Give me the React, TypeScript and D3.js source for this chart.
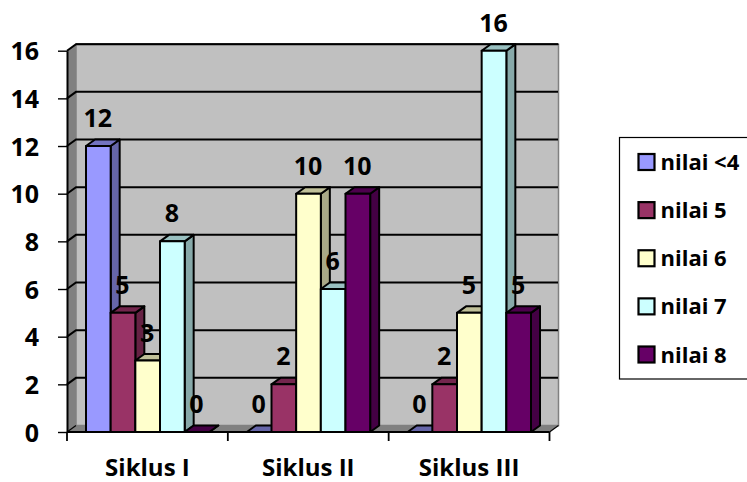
import React, { useEffect, useRef } from 'react';
import * as d3 from 'd3';

const categories = ['Siklus I', 'Siklus II', 'Siklus III'];
const seriesNames = ['nilai <4', 'nilai 5', 'nilai 6', 'nilai 7', 'nilai 8'];
const seriesColors = ['#9999ff', '#993366', '#ffffcc', '#ccffff', '#660066'];
const nilaiLt4 = [12, 0, 0];
const nilai5 = [5, 2, 2];
const nilai6 = [3, 10, 5];
const nilai7 = [8, 6, 16];
const nilai8 = [0, 10, 5];
const yTicks = [0, 2, 4, 6, 8, 10, 12, 14, 16];

const allSeries = [nilaiLt4, nilai5, nilai6, nilai7, nilai8];
const font = '"Open Sans", sans-serif';

const App: React.FC = () => {
  const ref = useRef<SVGSVGElement>(null);

  useEffect(() => {
    if (!ref.current) return;
    const svg = d3.select(ref.current);
    svg.selectAll('*').remove();

    const left = 67;
    const right = 549.5;
    const bottom = 432;
    const top = 50.7;
    const dx = 9;
    const dy = -6.5;

    const x0 = d3.scaleBand<string>().domain(categories).range([left, right]);
    const x1 = d3
      .scaleBand<number>()
      .domain(d3.range(seriesNames.length))
      .range([19, x0.bandwidth() - 18.5]);
    const y = d3.scaleLinear().domain([0, 16]).range([bottom, top]);
    const poly = (pts: number[][]) => pts.map(p => p.join(',')).join(' ');

    // walls and floor
    svg
      .append('polygon')
      .attr('points', poly([[left + dx, top + dy], [right + dx, top + dy], [right + dx, bottom + dy], [left + dx, bottom + dy]]))
      .attr('fill', '#c0c0c0')
      .attr('stroke', '#808080')
      .attr('stroke-width', 1.5);
    svg
      .append('line')
      .attr('x1', left + dx)
      .attr('y1', top + dy)
      .attr('x2', right + dx)
      .attr('y2', top + dy)
      .attr('stroke', '#000')
      .attr('stroke-width', 1.4);
    svg
      .append('polygon')
      .attr('points', poly([[left, top], [left + dx, top + dy], [left + dx, bottom + dy], [left, bottom]]))
      .attr('fill', '#808080');
    svg
      .append('polygon')
      .attr('points', poly([[left, bottom], [left + dx, bottom + dy], [right + dx, bottom + dy], [right, bottom]]))
      .attr('fill', '#808080');

    // gridlines run across the back wall and down the side wall
    const grid = svg.append('g').attr('stroke', '#000').attr('stroke-width', 2).attr('fill', 'none');
    yTicks.forEach(t => {
      if (t > 0) {
        grid
          .append('polyline')
          .attr('points', poly([[left, y(t)], [left + dx, y(t) + dy], [right + dx - 0.5, y(t) + dy]]));
      }
    });
    svg
      .append('line')
      .attr('x1', right)
      .attr('y1', bottom)
      .attr('x2', right + dx)
      .attr('y2', bottom + dy)
      .attr('stroke', '#000')
      .attr('stroke-width', 1.2);
    svg
      .append('line')
      .attr('x1', left)
      .attr('y1', bottom)
      .attr('x2', left + dx)
      .attr('y2', bottom + dy)
      .attr('stroke', '#000')
      .attr('stroke-width', 1.2);

    // bars
    const bw = x1.bandwidth();
    categories.forEach((cat, c) => {
      allSeries.forEach((vals, s) => {
        const bx = (x0(cat) as number) + (x1(s) as number);
        const by = y(vals[c]);
        const col = d3.color(seriesColors[s]) as d3.RGBColor;
        const g = svg
          .append('g')
          .attr('stroke', '#000')
          .attr('stroke-width', 2)
          .attr('stroke-linejoin', 'round');
        g.append('polygon')
          .attr('points', poly([[bx + bw, by], [bx + bw + dx, by + dy], [bx + bw + dx, bottom + dy], [bx + bw, bottom]]))
          .attr('fill', col.darker(1.15).formatHex());
        g.append('polygon')
          .attr('points', poly([[bx, by], [bx + dx, by + dy], [bx + bw + dx, by + dy], [bx + bw, by]]))
          .attr('fill', col.darker(vals[c] === 0 ? 1.15 : 0.8).formatHex());
        g.append('rect')
          .attr('x', bx)
          .attr('y', by)
          .attr('width', bw)
          .attr('height', bottom - by)
          .attr('fill', seriesColors[s]);
      });
    });

    // axes
    const yAxis = svg
      .append('g')
      .attr('transform', `translate(${left},0)`)
      .call(d3.axisLeft(y).tickValues(yTicks).tickSize(9).tickSizeOuter(0).tickPadding(19));
    yAxis.select('.domain').attr('stroke-width', 2);
    yAxis.selectAll('.tick line').attr('stroke-width', 1.4);
    yAxis
      .selectAll('text')
      .attr('font-family', font)
      .attr('font-weight', 700)
      .attr('font-size', 25)
      .attr('dy', '0.36em')
      .attr('fill', '#000');

    const xAxis = svg
      .append('g')
      .attr('transform', `translate(0,${bottom})`)
      .call(d3.axisBottom(x0).tickSize(0).tickPadding(27));
    xAxis.select('.domain').remove();
    xAxis
      .selectAll('text')
      .attr('font-family', font)
      .attr('font-weight', 700)
      .attr('font-size', 24)
      .attr('fill', '#000');
    svg
      .append('path')
      .attr(
        'd',
        d3
          .range(categories.length + 1)
          .map(i => `M${left + i * x0.bandwidth()},${bottom}v9`)
          .join('') + `M${left},${bottom}H${right}`,
      )
      .attr('stroke', '#000')
      .attr('stroke-width', 1.8)
      .attr('fill', 'none');

    // value labels sit above everything
    categories.forEach((cat, c) => {
      allSeries.forEach((vals, s) => {
        svg
          .append('text')
          .attr('x', (x0(cat) as number) + (x1(s) as number) + bw / 2 - 0.5)
          .attr('y', y(vals[c]) - 19)
          .attr('text-anchor', 'middle')
          .attr('font-family', font)
          .attr('font-weight', 700)
          .attr('font-size', 25)
          .text(vals[c]);
      });
    });

    // legend
    svg
      .append('rect')
      .attr('x', 619.5)
      .attr('y', 137.5)
      .attr('width', 140)
      .attr('height', 241.5)
      .attr('fill', '#fff')
      .attr('stroke', '#000')
      .attr('stroke-width', 1.2);
    const legendY = d3.scalePoint<string>().domain(seriesNames).range([162, 354.5]);
    seriesNames.forEach((name, s) => {
      const ly = legendY(name) as number;
      svg
        .append('rect')
        .attr('x', 638.5)
        .attr('y', ly - 8)
        .attr('width', 16)
        .attr('height', 16)
        .attr('fill', seriesColors[s])
        .attr('stroke', '#000')
        .attr('stroke-width', 2.2);
      svg
        .append('text')
        .attr('x', 660.5)
        .attr('y', ly + 8)
        .attr('font-family', font)
        .attr('font-weight', 700)
        .attr('font-size', 22)
        .text(name);
    });
  }, []);

  return (
    <svg
      ref={ref}
      width={747}
      height={482}
      style={{ position: 'absolute', left: 0, top: 0, background: '#fff' }}
    />
  );
};

export default App;
